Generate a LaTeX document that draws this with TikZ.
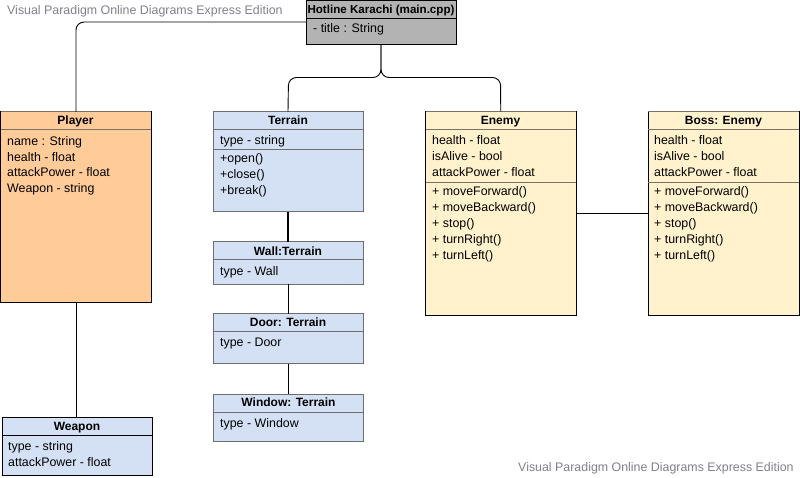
\documentclass[tikz,border=0pt]{standalone}
\usepackage{fontspec}
\setmainfont{Liberation Sans}
\definecolor{orangefill}{HTML}{FFCC99}
\definecolor{bluefill}{HTML}{D4E1F5}
\definecolor{yellowfill}{HTML}{FFF2CC}
\definecolor{grayfill}{HTML}{B3B3B3}
\definecolor{bluedraw}{HTML}{6E6E6E}
\definecolor{sepgray}{HTML}{7A7068}
\definecolor{wmgray}{HTML}{80808A}
\tikzset{
  box/.style={rectangle, anchor=north west, inner sep=0pt, outer sep=0pt, line width=1pt},
  hdr/.style={anchor=base, inner sep=0pt, font=\fontsize{12}{14}\selectfont\bfseries},
  attr/.style={anchor=base west, inner sep=0pt, font=\fontsize{12.4}{14}\selectfont},
  sepline/.style={line width=1pt},
  conn/.style={line width=0.9pt, black, rounded corners=8pt},
  wm/.style={anchor=base west, inner sep=0pt, text=wmgray, font=\fontsize{12.4}{14}\selectfont}
}
\begin{document}
\begin{tikzpicture}[x=1pt,y=-1pt]
\useasboundingbox (0,0) rectangle (800,478);

% watermarks
\node[wm] (wm1) at (7,14.5) {Visual Paradigm Online Diagrams Express Edition};
\node[wm] (wm2) at (518,471.5) {Visual Paradigm Online Diagrams Express Edition};

% Hotline
\node[box, draw=black, fill=grayfill, minimum width=150pt, minimum height=44pt] (hot) at (306,0.5) {};
\draw[sepline, black] (306,19) -- (456,19);
\node[hdr, font=\fontsize{11.6}{14}\selectfont\bfseries] (hoth) at (381,13.5) {Hotline Karachi (main.cpp)};
\node[attr] (hota) at (313,33) {- title : String};

% Player
\node[box, draw=black, fill=orangefill, minimum width=150.5pt, minimum height=190pt] (player) at (0.5,112) {};
\draw[sepline, sepgray] (0.5,112) -- (151,112);
\draw[sepline, sepgray] (0.5,129.5) -- (151,129.5);
\node[hdr] (playerh) at (75.5,124.5) {Player};
\foreach \t [count=\i from 0] in {name : String, health - float, attackPower - float, Weapon - string}
  \node[attr] (playera\i) at (7,145.3+15.8*\i) {\t};

% Weapon
\node[box, draw=black, fill=bluefill, minimum width=150pt, minimum height=58pt] (weapon) at (2,417.5) {};
\draw[sepline, black] (2,435.5) -- (152,435.5);
\node[hdr] (weaponh) at (77,430.5) {Weapon};
\node[attr] (weapona0) at (8,450.5) {type - string};
\node[attr] (weapona1) at (8,466.5) {attackPower - float};

% Terrain
\node[box, draw=bluedraw, fill=bluefill, minimum width=150pt, minimum height=100.5pt] (terrain) at (213,111.5) {};
\draw[sepline, bluedraw] (213,129.5) -- (363,129.5);
\draw[sepline, bluedraw] (213,150) -- (363,150);
\node[hdr] (terrainh) at (288,124.5) {Terrain};
\node[attr] (terraina) at (220,144.5) {type - string};
\foreach \t [count=\i from 0] in {+open(), +close(), +break()}
  \node[attr] (terrainm\i) at (220,162.5+16*\i) {\t};

% Wall
\node[box, draw=bluedraw, fill=bluefill, minimum width=150pt, minimum height=42pt] (wall) at (213,242) {};
\draw[sepline, bluedraw] (213,260) -- (363,260);
\node[hdr] (wallh) at (288,255.5) {Wall:Terrain};
\node[attr] (walla) at (220,275.5) {type - Wall};

% Door
\node[box, draw=bluedraw, fill=bluefill, minimum width=150pt, minimum height=50pt] (door) at (213,313.5) {};
\draw[sepline, bluedraw] (213,331.5) -- (363,331.5);
\node[hdr] (doorh) at (288,326.5) {Door: Terrain};
\node[attr] (doora) at (220,346.5) {type - Door};

% Window
\node[box, draw=bluedraw, fill=bluefill, minimum width=150pt, minimum height=47pt] (window) at (213.5,394) {};
\draw[sepline, bluedraw] (213.5,412) -- (363.5,412);
\node[hdr] (windowh) at (288.5,406.5) {Window: Terrain};
\node[attr] (windowa) at (220,427) {type - Window};

% Enemy
\node[box, draw=black, fill=yellowfill, minimum width=150.5pt, minimum height=203.5pt] (enemy) at (425.5,111.5) {};
\draw[sepline, sepgray] (425.5,111.5) -- (576,111.5);
\draw[sepline, sepgray] (425.5,129.5) -- (576,129.5);
\draw[sepline, sepgray] (425.5,183) -- (576,183);
\node[hdr] (enemyh) at (500.5,124.5) {Enemy};
\foreach \t [count=\i from 0] in {health - float, isAlive - bool, attackPower - float}
  \node[attr] (enemya\i) at (432,144.5+16.2*\i) {\t};
\foreach \t [count=\i from 0] in {+ moveForward(), + moveBackward(), + stop(), + turnRight(), + turnLeft()}
  \node[attr] (enemym\i) at (432,195.5+15.9*\i) {\t};

% Boss
\node[box, draw=black, fill=yellowfill, minimum width=151pt, minimum height=203.5pt] (boss) at (648,111.5) {};
\draw[sepline, sepgray] (648,111.5) -- (799,111.5);
\draw[sepline, sepgray] (648,129.5) -- (799,129.5);
\draw[sepline, sepgray] (648,183) -- (799,183);
\node[hdr] (bossh) at (723.5,124.5) {Boss: Enemy};
\foreach \t [count=\i from 0] in {health - float, isAlive - bool, attackPower - float}
  \node[attr] (bossa\i) at (654,144.5+16.2*\i) {\t};
\foreach \t [count=\i from 0] in {+ moveForward(), + moveBackward(), + stop(), + turnRight(), + turnLeft()}
  \node[attr] (bossm\i) at (654,195.5+15.9*\i) {\t};

% connectors
\draw[conn] (hot.west |- 0,22) -- (76,22) -- (player.north -| 76,0);
\draw[conn] (player.south -| 76,0) -- (weapon.north -| 76,0);
\draw[conn] (hot.south) -- (381,77.5) -- (288.5,77.5) -- (terrain.north);
\draw[conn] (hot.south) -- (381,77.5) -- (500.5,77.5) -- (enemy.north);
\draw[line width=2pt] (terrain.south) -- (wall.north);
\draw[line width=0.9pt] (wall.south) -- (door.north);
\draw[line width=0.9pt] (door.south) -- (window.north -| door.south);
\draw[line width=0.9pt] (enemy.east |- 0,213) -- (boss.west |- 0,213);
\end{tikzpicture}
\end{document}
